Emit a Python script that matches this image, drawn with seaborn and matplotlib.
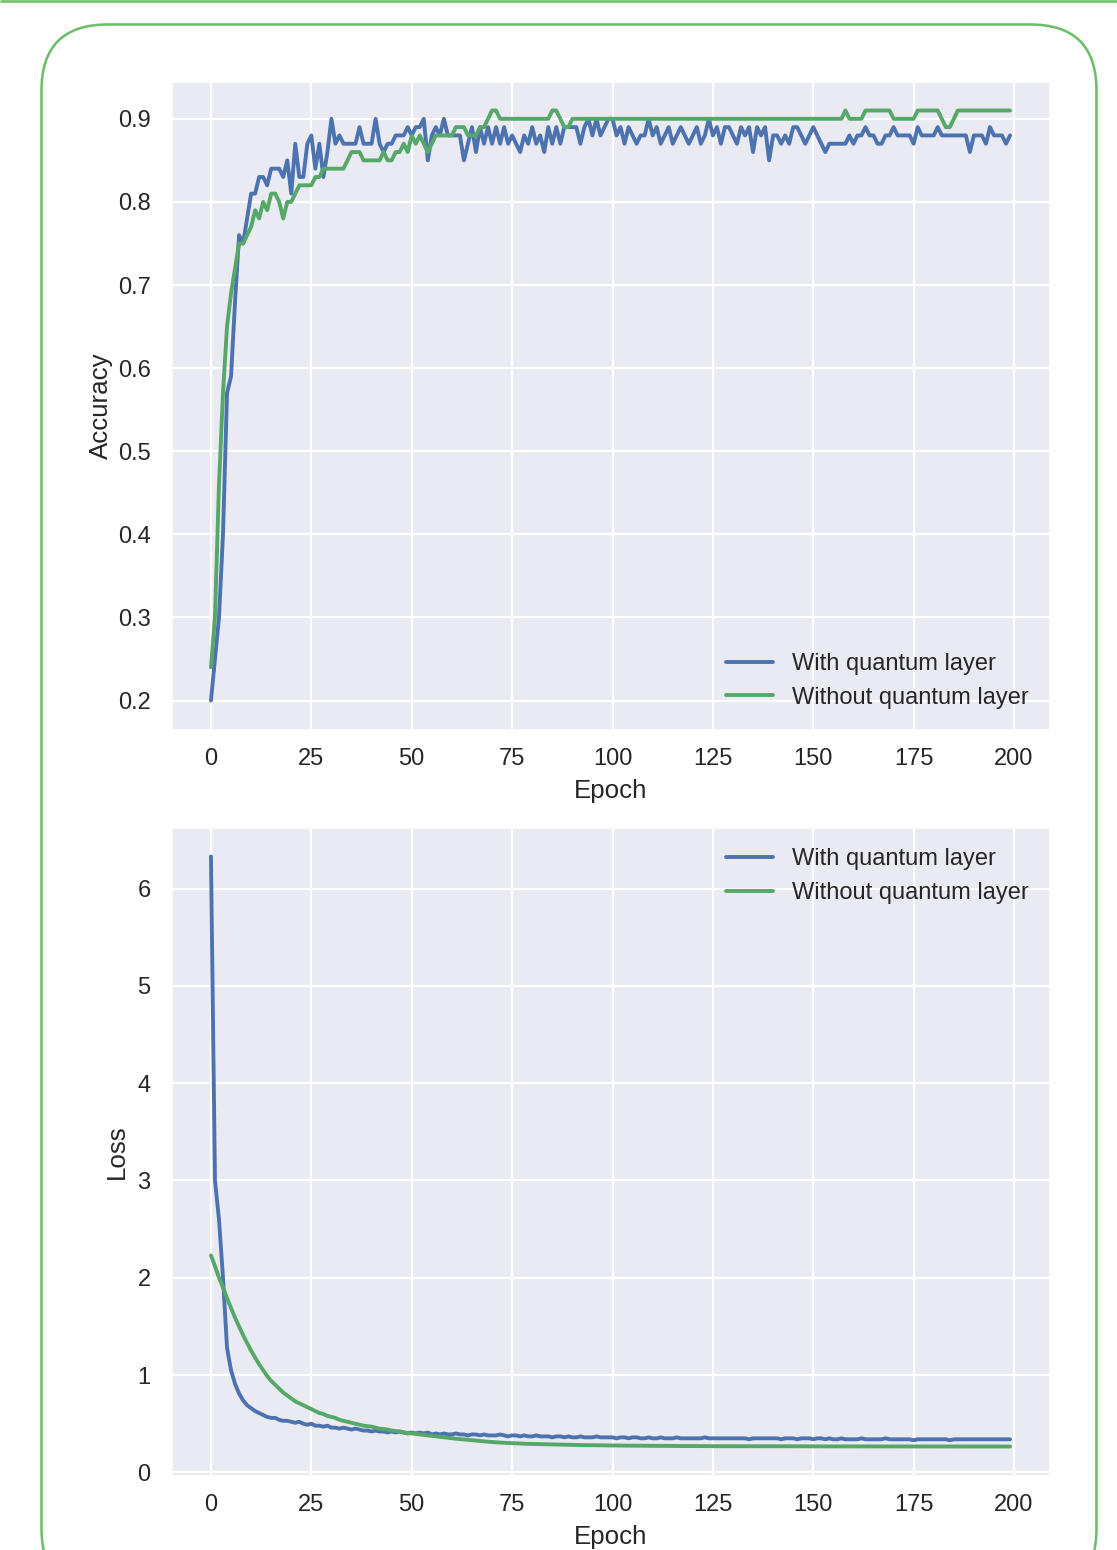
import matplotlib
matplotlib.use("Agg")
import matplotlib.pyplot as plt
import seaborn as sns
import numpy as np
import pandas as pd
from matplotlib.patches import FancyBboxPatch

# ---------------- data ----------------
epochs = list(range(200))

acc_with_quantum = [
    0.20, 0.25, 0.30, 0.40, 0.57, 0.59, 0.68, 0.76, 0.75, 0.78,
    0.81, 0.81, 0.83, 0.83, 0.82, 0.84, 0.84, 0.84, 0.83, 0.85,
    0.81, 0.87, 0.83, 0.83, 0.87, 0.88, 0.84, 0.87, 0.83, 0.86,
    0.90, 0.87, 0.88, 0.87, 0.87, 0.87, 0.87, 0.89, 0.87, 0.87,
    0.87, 0.90, 0.87, 0.86, 0.87, 0.87, 0.88, 0.88, 0.88, 0.89,
    0.88, 0.89, 0.89, 0.90, 0.85, 0.88, 0.89, 0.88, 0.90, 0.88,
    0.88, 0.88, 0.88, 0.85, 0.87, 0.89, 0.86, 0.89, 0.87, 0.89,
    0.87, 0.89, 0.87, 0.89, 0.87, 0.88, 0.87, 0.86, 0.88, 0.87,
    0.89, 0.87, 0.88, 0.86, 0.89, 0.87, 0.89, 0.87, 0.89, 0.89,
    0.89, 0.89, 0.87, 0.89, 0.90, 0.88, 0.90, 0.88, 0.89, 0.90,
    0.90, 0.88, 0.89, 0.87, 0.89, 0.88, 0.87, 0.88, 0.88, 0.90,
    0.88, 0.89, 0.87, 0.88, 0.89, 0.87, 0.88, 0.89, 0.88, 0.87,
    0.88, 0.89, 0.87, 0.88, 0.90, 0.88, 0.89, 0.87, 0.89, 0.89,
    0.88, 0.87, 0.89, 0.88, 0.89, 0.86, 0.89, 0.88, 0.89, 0.85,
    0.88, 0.88, 0.87, 0.88, 0.87, 0.89, 0.89, 0.88, 0.87, 0.88,
    0.89, 0.88, 0.87, 0.86, 0.87, 0.87, 0.87, 0.87, 0.87, 0.88,
    0.87, 0.88, 0.88, 0.89, 0.88, 0.88, 0.87, 0.87, 0.88, 0.88,
    0.89, 0.88, 0.88, 0.88, 0.88, 0.87, 0.89, 0.88, 0.88, 0.88,
    0.88, 0.89, 0.88, 0.88, 0.88, 0.88, 0.88, 0.88, 0.88, 0.86,
    0.88, 0.88, 0.88, 0.87, 0.89, 0.88, 0.88, 0.88, 0.87, 0.88,
]

acc_without_quantum = [
    0.24, 0.30, 0.46, 0.57, 0.65, 0.69, 0.72, 0.75, 0.75, 0.76,
    0.77, 0.79, 0.78, 0.80, 0.79, 0.81, 0.81, 0.80, 0.78, 0.80,
    0.80, 0.81, 0.82, 0.82, 0.82, 0.82, 0.83, 0.83, 0.84, 0.84,
    0.84, 0.84, 0.84, 0.84, 0.85, 0.86, 0.86, 0.86, 0.85, 0.85,
    0.85, 0.85, 0.85, 0.86, 0.85, 0.85, 0.86, 0.86, 0.87, 0.86,
    0.88, 0.87, 0.88, 0.87, 0.86, 0.87, 0.88, 0.88, 0.88, 0.88,
    0.88, 0.89, 0.89, 0.89, 0.88, 0.88, 0.88, 0.89, 0.89, 0.90,
    0.91, 0.91, 0.90, 0.90, 0.90, 0.90, 0.90, 0.90, 0.90, 0.90,
    0.90, 0.90, 0.90, 0.90, 0.90, 0.91, 0.91, 0.90, 0.89, 0.89,
    0.90, 0.90, 0.90, 0.90, 0.90, 0.90, 0.90, 0.90, 0.90, 0.90,
    0.90, 0.90, 0.90, 0.90, 0.90, 0.90, 0.90, 0.90, 0.90, 0.90,
    0.90, 0.90, 0.90, 0.90, 0.90, 0.90, 0.90, 0.90, 0.90, 0.90,
    0.90, 0.90, 0.90, 0.90, 0.90, 0.90, 0.90, 0.90, 0.90, 0.90,
    0.90, 0.90, 0.90, 0.90, 0.90, 0.90, 0.90, 0.90, 0.90, 0.90,
    0.90, 0.90, 0.90, 0.90, 0.90, 0.90, 0.90, 0.90, 0.90, 0.90,
    0.90, 0.90, 0.90, 0.90, 0.90, 0.90, 0.90, 0.90, 0.91, 0.90,
    0.90, 0.90, 0.90, 0.91, 0.91, 0.91, 0.91, 0.91, 0.91, 0.91,
    0.90, 0.90, 0.90, 0.90, 0.90, 0.90, 0.91, 0.91, 0.91, 0.91,
    0.91, 0.91, 0.90, 0.89, 0.89, 0.90, 0.91, 0.91, 0.91, 0.91,
    0.91, 0.91, 0.91, 0.91, 0.91, 0.91, 0.91, 0.91, 0.91, 0.91,
]

loss_with_quantum = [
    6.33, 3.00, 2.60, 2.00, 1.28, 1.05, 0.91, 0.81, 0.74, 0.69,
    0.66, 0.63, 0.61, 0.59, 0.57, 0.56, 0.56, 0.54, 0.53, 0.53,
    0.52, 0.51, 0.52, 0.50, 0.49, 0.50, 0.48, 0.48, 0.47, 0.48,
    0.46, 0.46, 0.45, 0.46, 0.45, 0.44, 0.45, 0.44, 0.43, 0.43,
    0.42, 0.43, 0.42, 0.42, 0.41, 0.42, 0.41, 0.42, 0.41, 0.40,
    0.41, 0.40, 0.41, 0.40, 0.41, 0.39, 0.40, 0.39, 0.40, 0.39,
    0.39, 0.40, 0.39, 0.39, 0.38, 0.39, 0.39, 0.38, 0.39, 0.38,
    0.38, 0.38, 0.39, 0.38, 0.37, 0.38, 0.38, 0.37, 0.38, 0.37,
    0.37, 0.38, 0.37, 0.37, 0.37, 0.36, 0.37, 0.37, 0.36, 0.37,
    0.36, 0.36, 0.37, 0.36, 0.36, 0.36, 0.37, 0.36, 0.36, 0.36,
    0.36, 0.35, 0.36, 0.36, 0.35, 0.36, 0.36, 0.35, 0.35, 0.36,
    0.35, 0.35, 0.36, 0.35, 0.35, 0.35, 0.36, 0.35, 0.35, 0.35,
    0.35, 0.35, 0.35, 0.36, 0.35, 0.35, 0.35, 0.35, 0.35, 0.35,
    0.35, 0.35, 0.35, 0.35, 0.34, 0.35, 0.35, 0.35, 0.35, 0.35,
    0.35, 0.35, 0.34, 0.35, 0.35, 0.35, 0.34, 0.35, 0.35, 0.35,
    0.34, 0.35, 0.35, 0.34, 0.35, 0.34, 0.34, 0.35, 0.34, 0.34,
    0.34, 0.34, 0.35, 0.34, 0.34, 0.34, 0.34, 0.34, 0.35, 0.34,
    0.34, 0.34, 0.34, 0.34, 0.34, 0.33, 0.34, 0.34, 0.34, 0.34,
    0.34, 0.34, 0.34, 0.34, 0.33, 0.34, 0.34, 0.34, 0.34, 0.34,
    0.34, 0.34, 0.34, 0.34, 0.34, 0.34, 0.34, 0.34, 0.34, 0.34,
]

loss_without_quantum = [
    2.23, 2.12, 2.00, 1.90, 1.79, 1.69, 1.59, 1.50, 1.41, 1.33,
    1.25, 1.18, 1.11, 1.05, 0.99, 0.94, 0.90, 0.86, 0.82, 0.79,
    0.76, 0.73, 0.71, 0.69, 0.67, 0.65, 0.63, 0.61, 0.60, 0.58,
    0.57, 0.56, 0.54, 0.53, 0.52, 0.51, 0.50, 0.49, 0.48, 0.475,
    0.47, 0.46, 0.45, 0.445, 0.44, 0.43, 0.425, 0.42, 0.41, 0.405,
    0.40, 0.395, 0.39, 0.385, 0.38, 0.375, 0.37, 0.365, 0.36, 0.355,
    0.35, 0.346, 0.342, 0.338, 0.334, 0.330, 0.326, 0.322, 0.318, 0.315,
    0.312, 0.309, 0.306, 0.304, 0.302, 0.300, 0.298, 0.296, 0.294, 0.293,
    0.292, 0.291, 0.290, 0.289, 0.288, 0.287, 0.286, 0.285, 0.284, 0.283,
    0.282, 0.281, 0.281, 0.280, 0.280, 0.279, 0.279, 0.278, 0.278, 0.277,
    0.277, 0.276, 0.276, 0.275, 0.275, 0.275, 0.274, 0.274, 0.274, 0.273,
    0.273, 0.273, 0.272, 0.272, 0.272, 0.272, 0.271, 0.271, 0.271, 0.271,
    0.270, 0.270, 0.270, 0.270, 0.270, 0.269, 0.269, 0.269, 0.269, 0.269,
    0.268, 0.268, 0.268, 0.268, 0.268, 0.268, 0.268, 0.268, 0.268, 0.268,
    0.268, 0.268, 0.268, 0.268, 0.268, 0.268, 0.268, 0.268, 0.268, 0.268,
    0.267, 0.267, 0.267, 0.267, 0.267, 0.267, 0.267, 0.267, 0.267, 0.267,
    0.267, 0.267, 0.267, 0.267, 0.267, 0.267, 0.267, 0.267, 0.267, 0.267,
    0.267, 0.267, 0.267, 0.267, 0.267, 0.267, 0.267, 0.267, 0.267, 0.267,
    0.266, 0.266, 0.266, 0.266, 0.266, 0.266, 0.266, 0.266, 0.266, 0.266,
    0.266, 0.266, 0.266, 0.266, 0.266, 0.266, 0.266, 0.266, 0.266, 0.266,
]

series_labels = ["With quantum layer", "Without quantum layer"]
x_ticks = [0, 25, 50, 75, 100, 125, 150, 175, 200]
acc_ticks = [0.2, 0.3, 0.4, 0.5, 0.6, 0.7, 0.8, 0.9]
loss_ticks = [0, 1, 2, 3, 4, 5, 6]

# ---------------- style ----------------
sns.set_theme(style="darkgrid", context="notebook")
plt.rcParams["font.family"] = ["Liberation Sans", "DejaVu Sans"]
plt.rcParams["xtick.major.pad"] = 2.5

BLUE = "#4C72B0"
GREEN = "#55A868"
FRAME = "#6cbf68"
LW = 1.8

W, H, DPI = 1117, 1550, 155
fig = plt.figure(figsize=(W / DPI, H / DPI), dpi=DPI, facecolor="white")

# page decoration (card border + top rule)
deco = fig.add_axes([0, 0, 1, 1], zorder=-10)
deco.set_xlim(0, W)
deco.set_ylim(H, 0)
deco.axis("off")
deco.add_patch(FancyBboxPatch((41.5, 24.5), 1055, 1570,
                              boxstyle="round,pad=0,rounding_size=66",
                              fc="white", ec=FRAME, lw=1.2))
deco.plot([0, W], [1.0, 1.0], color=FRAME, lw=1.2, solid_capstyle="butt")

ax1 = fig.add_axes([171 / W, 1 - 730 / H, 879 / W, 649 / H])
ax2 = fig.add_axes([171 / W, 1 - 1476 / H, 879 / W, 649 / H])

sns.lineplot(x=epochs, y=acc_with_quantum, color=BLUE, lw=LW, label=series_labels[0], ax=ax1)
sns.lineplot(x=epochs, y=acc_without_quantum, color=GREEN, lw=LW, label=series_labels[1], ax=ax1)
ax1.set_xticks(x_ticks)
ax1.set_yticks(acc_ticks)
ax1.set_xlabel("Epoch")
ax1.set_ylabel("Accuracy", labelpad=2)
ax1.legend(loc="lower right", frameon=False)

sns.lineplot(x=epochs, y=loss_with_quantum, color=BLUE, lw=LW, label=series_labels[0], ax=ax2)
sns.lineplot(x=epochs, y=loss_without_quantum, color=GREEN, lw=LW, label=series_labels[1], ax=ax2)
ax2.set_xticks(x_ticks)
ax2.set_yticks(loss_ticks)
ax2.set_xlabel("Epoch")
ax2.set_ylabel("Loss")
ax2.legend(loc="upper right", frameon=False)

fig.savefig("out.png", dpi=DPI, facecolor="white")
